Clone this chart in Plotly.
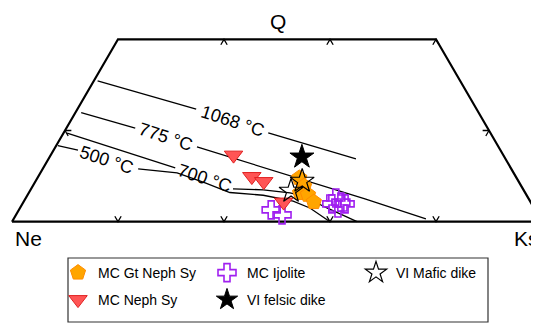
import numpy as np
import plotly.graph_objects as go

SQ = np.sqrt(3) / 2

# ---------------- data: compositions in % (Ks, Q); Ne = 100 - Ks - Q ----------------
gt_neph_ks = [49.4, 51.2, 51.2, 52.9, 54.8]
gt_neph_q = [9.6, 7.8, 6.3, 5.9, 4.3]

neph_ks = [34.5, 40.3, 43.1, 49.1]
neph_q = [14.6, 9.9, 8.8, 4.3]

ijol_ks = [47.6, 50.2, 58.5, 59.9, 58.4, 60.0, 60.9]
ijol_q = [2.6, 1.5, 5.2, 4.3, 3.9, 3.0, 3.9]

felsic_ks = [47.6]
felsic_q = [14.2]

mafic_ks = [50.3, 49.3]
mafic_q = [8.9, 6.7]

# isotherms (None = gap for the label)
iso_1068_ks = [0.7, 22.4, None, 38.6, 58.0]
iso_1068_q = [30.9, 24.7, None, 19.5, 13.8]

iso_775_ks = [1.1, 13.0, None, 26.7, 49.7, 64.1, 77.8]
iso_775_q = [23.9, 20.5, None, 16.4, 9.4, 5.0, 0.6]

iso_700_ks = [0.7, 17.0, 24.9, None, 38.1, 43.9, 49.3, 53.1, 57.0, 61.0, 65.1]
iso_700_q = [19.4, 14.3, 11.8, None, 7.2, 7.0, 6.3, 5.4, 3.4, 1.7, 0.0]

iso_500_ks = [0.3, 4.6, None, 18.0, 25.8, 32.2, 37.9, 44.5, 50.8, 54.7, 60.0]
iso_500_q = [16.7, 15.7, None, 11.6, 10.7, 8.5, 6.4, 5.8, 4.5, 3.0, 0.0]

iso_labels = ["1068 °C", "775 °C", "700 °C", "500 °C"]
iso_label_ks = [30.5, 19.8, 31.5, 11.1]
iso_label_q = [22.1, 18.5, 9.5, 13.6]

# frame of the diagram (Q truncated at 40 %)
frame_ks = [0, 0, 60, 100, 0]
frame_q = [0, 40, 40, 0, 0]

# tick positions (Ks, Q) and the grid directions (deg) of their marks
tick_ks = [20, 40, 60, 80, 20, 40, 60, 0, 80]
tick_q = [0, 0, 0, 0, 40, 40, 40, 20, 20]
tick_dirs = [(60, 120)] * 4 + [(240, 300)] * 3 + [(0, 300), (180, 240)]


def to_xy(ks, q):
    xs, ys = [], []
    for k, qq in zip(ks, q):
        if k is None:
            xs.append(None)
            ys.append(None)
        else:
            xs.append(k / 100 + qq / 200)
            ys.append(qq / 100 * SQ)
    return xs, ys


# page body has an 8px margin: figure drawn from (8, 8) of the window
OFF = 8
W, H = 548 - OFF, 323 - OFF


def px(x):
    return (x - OFF) / W


def py(y):
    return 1 - (y - OFF) / H


fig = go.Figure()

# frame
fx, fy = to_xy(frame_ks, frame_q)
fig.add_trace(go.Scatter(x=fx, y=fy, mode="lines", line=dict(color="black", width=2.2),
                         showlegend=False, hoverinfo="skip"))

# tick chevrons
tl = 0.012
tx, ty = [], []
bx, by = to_xy(tick_ks, tick_q)
for x0, y0, dirs in zip(bx, by, tick_dirs):
    a1, a2 = np.radians(dirs[0]), np.radians(dirs[1])
    tx += [x0 + tl * np.cos(a1), x0, x0 + tl * np.cos(a2), None]
    ty += [y0 + tl * np.sin(a1), y0, y0 + tl * np.sin(a2), None]
fig.add_trace(go.Scatter(x=tx, y=ty, mode="lines", line=dict(color="black", width=1.3),
                         showlegend=False, hoverinfo="skip"))

# isotherms
for ks, q in [(iso_1068_ks, iso_1068_q), (iso_775_ks, iso_775_q),
              (iso_700_ks, iso_700_q), (iso_500_ks, iso_500_q)]:
    ix, iy = to_xy(ks, q)
    fig.add_trace(go.Scatter(x=ix, y=iy, mode="lines", line=dict(color="black", width=1.3),
                             showlegend=False, hoverinfo="skip", connectgaps=False))

# data series
series = [
    ("MC Ijolite", ijol_ks, ijol_q,
     dict(symbol="cross-open", size=15, color="#A020F0", line=dict(color="#A020F0", width=1.6)),
     "legend", 2),
    ("MC Gt Neph Sy", gt_neph_ks, gt_neph_q,
     dict(symbol="pentagon", size=16, color="#FFA500", line=dict(color="#FF8C00", width=1)),
     "legend", 1),
    ("MC Neph Sy", neph_ks, neph_q,
     dict(symbol="triangle-down", size=16, color="#FF5555", line=dict(color="#E02020", width=1)),
     "legend2", 1),
    ("VI felsic dike", felsic_ks, felsic_q,
     dict(symbol="star", size=18, color="black", line=dict(color="black", width=1)),
     "legend2", 2),
    ("VI Mafic dike", mafic_ks, mafic_q,
     dict(symbol="star-open", size=18, color="black", line=dict(color="black", width=1.2)),
     "legend", 3),
]
for name, ks, q, mk, lg, rank in series:
    sx, sy = to_xy(ks, q)
    fig.add_trace(go.Scatter(x=sx, y=sy, mode="markers", name=name, marker=mk,
                             legend=lg, legendrank=rank))

FONT = "Arial, Liberation Sans, sans-serif"

# isotherm labels
lx, ly = to_xy(iso_label_ks, iso_label_q)
for t, x, y in zip(iso_labels, lx, ly):
    fig.add_annotation(x=x, y=y, text=t, showarrow=False, textangle=18,
                       font=dict(size=18, color="black", family=FONT))

for t, ax, ay, xa in [("Q", 278, 22, "center"), ("Ne", 28, 239, "center"), ("Ks", 512, 239, "left")]:
    fig.add_annotation(x=px(ax), y=py(ay), xref="paper", yref="paper", text=t,
                       showarrow=False, xanchor=xa, yanchor="middle",
                       font=dict(size=21, color="black", family=FONT))

# legend box
fig.add_shape(type="rect", xref="paper", yref="paper", x0=px(68), x1=px(488),
              y0=py(322), y1=py(258), line=dict(color="#333333", width=1.2))

leg_common = dict(orientation="h", xanchor="left", yanchor="middle", entrywidth=104,
                  entrywidthmode="pixels", font=dict(size=14, color="black", family=FONT),
                  bgcolor="rgba(0,0,0,0)", borderwidth=0, itemsizing="trace")
fig.update_layout(
    width=W, height=H,
    margin=dict(l=0, r=0, t=0, b=0),
    paper_bgcolor="white", plot_bgcolor="white",
    xaxis=dict(range=[(OFF - 12) / 530, (W + OFF - 12) / 530], visible=False, fixedrange=True),
    yaxis=dict(range=[(221.7 - OFF - H) / 526.5, (221.7 - OFF) / 526.5], visible=False,
               fixedrange=True),
    legend=dict(x=px(58), y=py(273), **leg_common),
    legend2=dict(x=px(58), y=py(300), **leg_common),
    showlegend=True,
)

fig.write_html("out.html")
